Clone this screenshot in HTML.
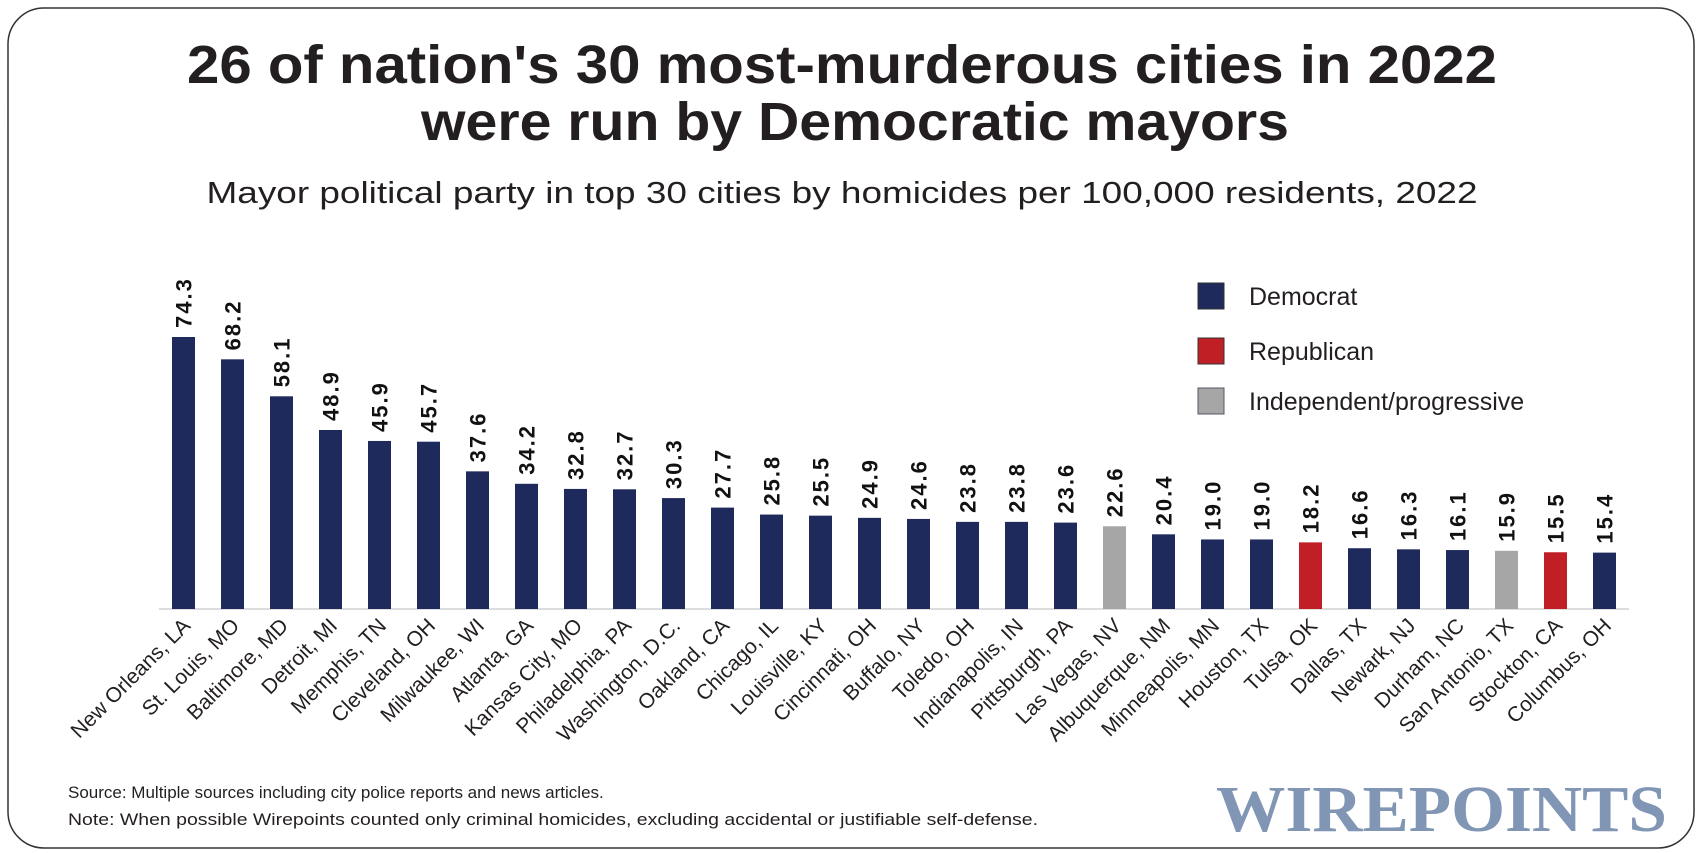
<!DOCTYPE html>
<html><head><meta charset="utf-8"><style>
html,body{margin:0;padding:0;background:#fff;}
svg{display:block;font-family:"Liberation Sans",sans-serif;}
</style></head><body>
<svg id="chart" width="1703" height="853" viewBox="0 0 1703 853">
<rect x="8" y="8" width="1686" height="840" rx="36" fill="#fff" stroke="#333" stroke-width="1.5"/>
<text x="842" y="83" text-anchor="middle" font-size="54" font-weight="bold" fill="#231f20" textLength="1310" lengthAdjust="spacingAndGlyphs">26 of nation's 30 most-murderous cities in 2022</text>
<text x="855" y="140" text-anchor="middle" font-size="54" font-weight="bold" fill="#231f20" textLength="868" lengthAdjust="spacingAndGlyphs">were run by Democratic mayors</text>
<text x="842" y="203" text-anchor="middle" font-size="31" fill="#231f20" textLength="1271" lengthAdjust="spacingAndGlyphs">Mayor political party in top 30 cities by homicides per 100,000 residents, 2022</text>
<g id="legend">
<rect x="1198" y="283" width="26" height="26" fill="#1f2a5c" stroke="#333"/>
<text x="1249" y="305" font-size="25" fill="#231f20">Democrat</text>
<rect x="1198" y="338" width="26" height="26" fill="#c01f26" stroke="#333"/>
<text x="1249" y="360" font-size="25" fill="#231f20">Republican</text>
<rect x="1198" y="388" width="26" height="26" fill="#a6a6a6" stroke="#556"/>
<text x="1249" y="410" font-size="25" fill="#231f20">Independent/progressive</text>
</g>
<line x1="159" y1="609" x2="1629" y2="609" stroke="#ddd" stroke-width="2"/>
<g id="bars"></g>
<text x="68" y="798" font-size="17" fill="#231f20">Source: Multiple sources including city police reports and news articles.</text>
<text x="68" y="825" font-size="17" fill="#231f20" textLength="970" lengthAdjust="spacingAndGlyphs">Note: When possible Wirepoints counted only criminal homicides, excluding accidental or justifiable self-defense.</text>
<text x="1216" y="831" font-family="'Liberation Serif',serif" font-weight="bold" font-size="66" fill="#8096b4" textLength="451" lengthAdjust="spacingAndGlyphs">WIREPOINTS</text>
</svg>
<script>
const cities = ["New Orleans, LA","St. Louis, MO","Baltimore, MD","Detroit, MI","Memphis, TN","Cleveland, OH","Milwaukee, WI","Atlanta, GA","Kansas City, MO","Philadelphia, PA","Washington, D.C.","Oakland, CA","Chicago, IL","Louisville, KY","Cincinnati, OH","Buffalo, NY","Toledo, OH","Indianapolis, IN","Pittsburgh, PA","Las Vegas, NV","Albuquerque, NM","Minneapolis, MN","Houston, TX","Tulsa, OK","Dallas, TX","Newark, NJ","Durham, NC","San Antonio, TX","Stockton, CA","Columbus, OH"];
const rates = [74.3,68.2,58.1,48.9,45.9,45.7,37.6,34.2,32.8,32.7,30.3,27.7,25.8,25.5,24.9,24.6,23.8,23.8,23.6,22.6,20.4,19.0,19.0,18.2,16.6,16.3,16.1,15.9,15.5,15.4];
const parties = ["D","D","D","D","D","D","D","D","D","D","D","D","D","D","D","D","D","D","D","I","D","D","D","R","D","D","D","I","R","D"];
const partyColors = {D:"#1f2a5c",R:"#c01f26",I:"#a6a6a6"};
const NS = "http://www.w3.org/2000/svg";
const baseY = 609, pxPerUnit = 272/74.3, x0 = 183.5, step = 49.0, bw = 23;
function xPos(i){ return x0 + i*step; }
function yPos(v){ return baseY - v*pxPerUnit; }
const g = document.getElementById('bars');
cities.forEach((c,i)=>{
  const v = rates[i], x = xPos(i), y = yPos(v);
  const r = document.createElementNS(NS,'rect');
  r.setAttribute('x', x-bw/2); r.setAttribute('y', y);
  r.setAttribute('width', bw); r.setAttribute('height', baseY-y);
  r.setAttribute('fill', partyColors[parties[i]]);
  
  
  g.appendChild(r);
  const t = document.createElementNS(NS,'text');
  t.setAttribute('transform', `translate(${x+8},${y-9}) rotate(-90)`);
  t.setAttribute('font-size','22'); t.setAttribute('font-weight','bold');
  t.setAttribute('letter-spacing','2'); t.setAttribute('fill','#111');
  t.textContent = v.toFixed(1);
  
  
  g.appendChild(t);
  const l = document.createElementNS(NS,'text');
  l.setAttribute('transform', `translate(${x+8},${baseY+18}) rotate(-45)`);
  l.setAttribute('text-anchor','end'); l.setAttribute('font-size','21');
  l.setAttribute('fill','#231f20');
  l.textContent = c;
  
  
  g.appendChild(l);
});
</script>
</body></html>
